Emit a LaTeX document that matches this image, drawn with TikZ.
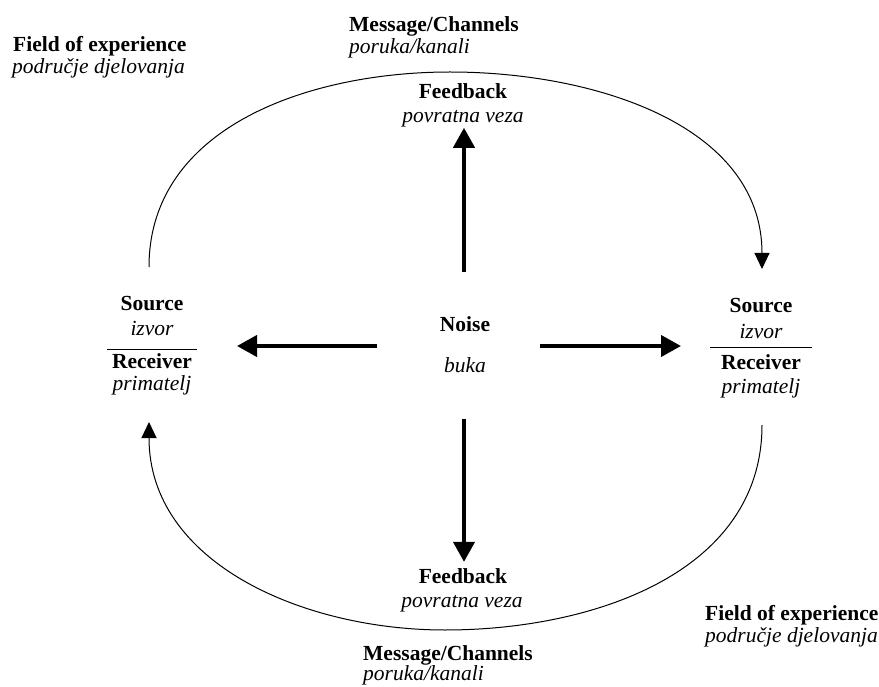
\documentclass[tikz,border=0pt]{standalone}
\usepackage{fontspec}
\setmainfont{Liberation Serif}
\usetikzlibrary{arrows.meta,positioning}

\begin{document}
\begin{tikzpicture}[
    x=1pt, y=-1pt,
    lbl/.style={inner sep=0pt, anchor=base},
    bold/.style={lbl, font=\fontsize{21.5}{22}\selectfont\bfseries},
    ital/.style={lbl, font=\fontsize{21.5}{22}\selectfont\itshape},
    bigarrow/.style={-{Triangle[length=20pt,width=21pt]}, line width=4pt},
    arcarrow/.style={-{Triangle[length=16pt,width=15pt]}, line width=1pt}
]
\useasboundingbox (0,0) rectangle (879,687);

% Field of experience
\node[bold, anchor=base west] (fieldT) at (13,52) {Field of experience};
\node[ital, anchor=base west] (fieldTsub) at (12,74) {područje djelovanja};
\node[bold, anchor=base west] (fieldB) at (705,620) {Field of experience};
\node[ital, anchor=base west] (fieldBsub) at (705,642) {područje djelovanja};

% Message/Channels
\node[bold, anchor=base west] (msgT) at (349,32) {Message/Channels};
\node[ital, anchor=base west] (msgTsub) at (349,54) {poruka/kanali};
\node[bold, anchor=base west] (msgB) at (363,660) {Message/Channels};
\node[ital, anchor=base west] (msgBsub) at (363,680) {poruka/kanali};

% Feedback
\node[bold] (fbT) at (463,99) {Feedback};
\node[ital] (pvT) at (463,123) {povratna veza};
\node[bold] (fbB) at (463,583) {Feedback};
\node[ital] (pvB) at (462,607) {povratna veza};

% Noise
\node[bold] (noise) at (465,332) {Noise};
\node[ital] (buka) at (465,372) {buka};

% Source / Receiver (left)
\node[bold] (srcL) at (152,311) {Source};
\node[ital] (izvL) at (152,335) {izvor};
\node[bold] (recL) at (152,368) {Receiver};
\node[ital] (priL) at (152,390) {primatelj};
\coordinate (barLw) at (107,350);
\coordinate (barLe) at (197,350);
\draw[line width=1pt] (barLw) -- (barLe);

% Source / Receiver (right)
\node[bold] (srcR) at (761,313) {Source};
\node[ital] (izvR) at (761,338) {izvor};
\node[bold] (recR) at (761,370) {Receiver};
\node[ital] (priR) at (761,393) {primatelj};
\coordinate (barRw) at (710,348);
\coordinate (barRe) at (812,348);
\draw[line width=1pt] (barRw) -- (barRe);

% Noise arrows
\coordinate (nUp) at (464,272);
\coordinate (nDown) at (464,419);
\coordinate (nLeft) at (377,346);
\coordinate (nRight) at (540,346);
\draw[bigarrow] (nUp) -- (pvT.south -| nUp);
\draw[bigarrow, shorten >=6pt] (nDown) -- (fbB.north -| nDown);
\draw[bigarrow, shorten >=40pt] (nLeft) -- (barLe |- nLeft);
\draw[bigarrow, shorten >=29pt] (nRight) -- (barRw |- nRight);

% Arcs
\coordinate (arcTL) at (149,267);
\coordinate (arcTR) at (762,269);
\coordinate (topT) at (450,72);
\coordinate (arcBR) at (762,425);
\coordinate (arcBL) at (149,422);
\coordinate (botB) at (445,630);
\draw[arcarrow] (arcTL) to[out=90,in=180] (topT) to[out=0,in=90] (arcTR);
\draw[arcarrow] (arcBR) to[out=-90,in=0] (botB) to[out=180,in=-90] (arcBL);

\end{tikzpicture}
\end{document}
